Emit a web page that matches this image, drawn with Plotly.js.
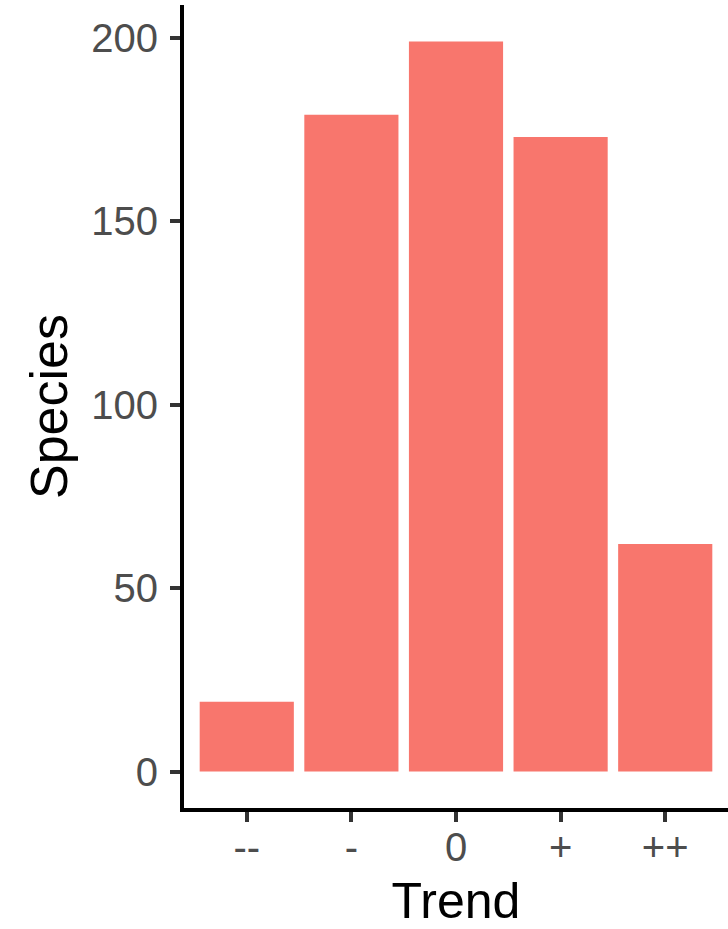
<!DOCTYPE html>
<html>
<head>
<meta charset="utf-8">
<script src="https://cdn.plot.ly/plotly-3.0.1.min.js"></script>
<style>html,body{margin:0;padding:0;background:#fff;}#chart{width:728px;height:929px;}</style>
</head>
<body>
<div id="chart"></div>
<script>
const categories = ["--", "-", "0", "+", "++"];
const species = [19, 179, 199, 173, 62];
const yTicks = [0, 50, 100, 150, 200];

const FONT = "Liberation Sans, Arial, Helvetica, sans-serif";

const trace = {
  type: "bar",
  x: categories,
  y: species,
  marker: {color: "#F8766D", line: {width: 0}},
  hoverinfo: "none"
};

const layout = {
  width: 728,
  height: 929,
  margin: {l: 184, r: 0, t: 5, b: 121, pad: 0},
  paper_bgcolor: "#ffffff",
  plot_bgcolor: "#ffffff",
  bargap: 0.1,
  showlegend: false,
  xaxis: {
    type: "category",
    range: [-0.6, 4.6],
    showgrid: false,
    zeroline: false,
    showline: true,
    linecolor: "#000000",
    linewidth: 4,
    ticks: "outside",
    ticklen: 10,
    tickwidth: 4,
    tickcolor: "#333333",
    ticklabelstandoff: -9,
    automargin: true,
    tickfont: {family: FONT, size: 40, color: "#4d4d4d"},
    title: {text: "Trend", font: {family: FONT, size: 50, color: "#000000"}, standoff: 20}
  },
  yaxis: {
    range: [-9.95, 208.95],
    tickvals: yTicks,
    ticktext: yTicks.map(String),
    showgrid: false,
    zeroline: false,
    showline: true,
    linecolor: "#000000",
    linewidth: 4,
    ticks: "outside",
    ticklen: 10,
    tickwidth: 4,
    tickcolor: "#333333",
    ticklabelstandoff: 4,
    automargin: false,
    tickfont: {family: FONT, size: 40, color: "#4d4d4d"},
    title: {text: "Species", font: {family: FONT, size: 52, color: "#000000"}}
  }
};

Plotly.newPlot("chart", [trace], layout, {staticPlot: true, displayModeBar: false});
</script>
</body>
</html>
